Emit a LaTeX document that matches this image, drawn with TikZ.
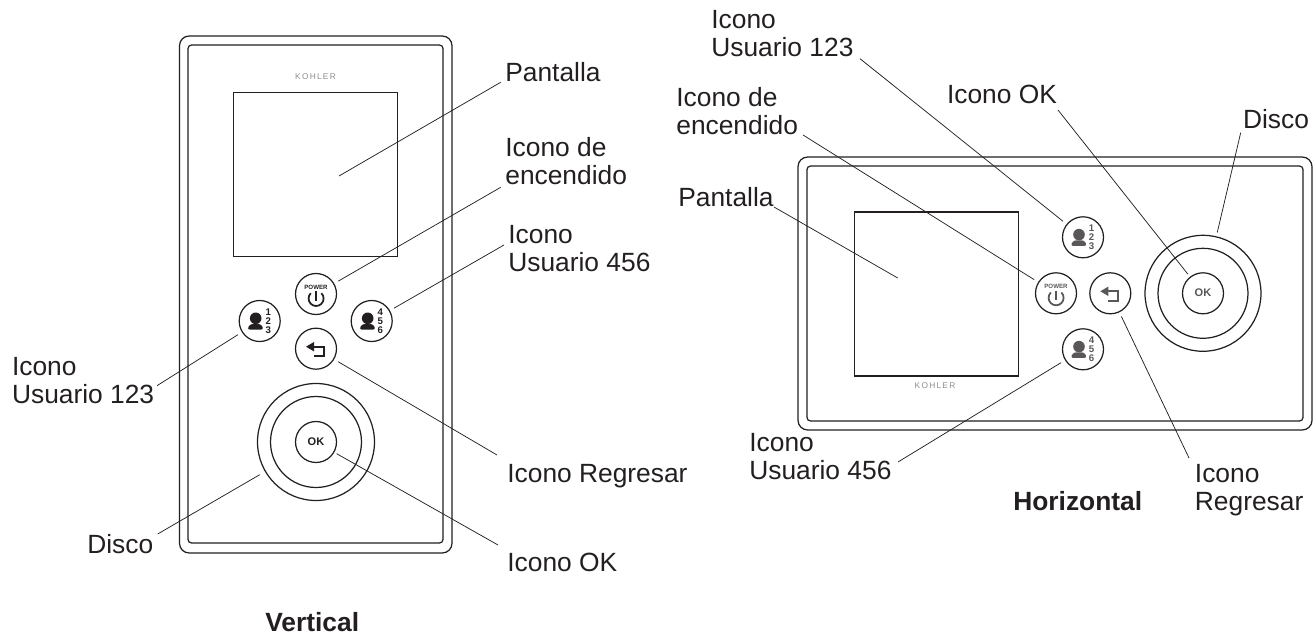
\documentclass[tikz,border=0pt]{standalone}
\usepackage{fontspec}
\setmainfont{Liberation Sans}
\newfontfamily\kohlerfont[LetterSpace=15]{Liberation Sans}
\usepackage{tikz}
\definecolor{ink}{HTML}{231F20}
\definecolor{softgray}{HTML}{8A8C8E}
\colorlet{iconcol}{ink}

\begin{document}
\begin{tikzpicture}[
		x=0.02cm, y=-0.02cm,
		callout/.style={inner sep=0pt, anchor=north west, align=left, text=ink, font=\fontsize{15}{15.9}\selectfont},
		caption/.style={inner sep=0pt, anchor=north west, text=ink, font=\fontsize{15}{15.9}\selectfont\bfseries},
		brand/.style={inner sep=0pt, text=softgray, font=\fontsize{4.75}{5}\kohlerfont},
		outerframe/.style={draw=ink, line width=0.7pt, rounded corners=5.5pt},
		innerframe/.style={draw=ink, line width=0.7pt, rounded corners=2pt},
		screenbox/.style={draw=ink, line width=0.7pt, inner sep=0pt, minimum size=3.28cm},
		btn/.style={draw=ink, circle, line width=0.7pt, inner sep=0pt, minimum size=0.82cm},
		ring/.style={draw=ink, circle, line width=0.7pt, inner sep=0pt},
		leader/.style={draw=ink, line width=0.42pt, shorten >=2.6pt},
		icondigit/.style={inner sep=0pt, text=iconcol, font=\fontsize{5.5}{6}\selectfont\bfseries},
		pics/usericon/.style n args={3}{code={
				\fill[iconcol] (-4,-2.7) circle (5.8);
				\fill[iconcol, rounded corners=1.5pt] (-12.6,8.6) -- (-9.6,3) -- (1.4,3) -- (4,8.6) -- cycle;
				\node[icondigit] (a) at (8.5,-8.7) {#1};
				\node[icondigit] (b) at (8.5,0) {#2};
				\node[icondigit] (c) at (8.5,9) {#3};
		}},
		pics/powericon/.style={code={
				\node[icondigit, font=\fontsize{3.5}{4}\selectfont\bfseries] (word) at (0,-6.7) {POWER};
				\draw[iconcol, line width=1pt] (0,-2.7) -- (0,6.7);
				\draw[iconcol, line width=1pt] (5.4,-0.8) arc[start angle=-45, end angle=225, radius=7.5];
		}},
		pics/backicon/.style={code={
				\fill[iconcol] (-10,-2) -- (-2,-6.7) -- (-2,2.7) -- cycle;
				\draw[iconcol, line width=1.05pt] (-2,-2) -- (8,-2) -- (8,7.3) -- (-2,7.3);
		}},
		okmark/.style={inner sep=0pt, text=iconcol, font=\fontsize{6.3}{7}\selectfont\bfseries}
		]
		\useasboundingbox (0,0) rectangle (1316,635);
		
		% =========================
		% Vertical panel
		% =========================
		\draw[outerframe] (179.5,36) rectangle (452,553);
		\draw[innerframe] (188,45) rectangle (443,543);
		\node[brand] (vBrand) at (315.5,77) {KOHLER};
		\node[screenbox] (vScreen) at (315.7,174.5) {};
		
		\node[btn] (vPower) at (316,294) {};
		\node[btn] (vUserA) at (259.7,321) {};
		\node[btn] (vUserB) at (371.7,321) {};
		\node[btn] (vBack) at (316,348.7) {};
		\pic (vPowerMark) at (vPower) {powericon};
		\pic (vUserAMark) at (vUserA) {usericon={1}{2}{3}};
		\pic (vUserBMark) at (vUserB) {usericon={4}{5}{6}};
		\pic (vBackMark) at (vBack) {backicon};
		
		\node[ring, minimum size=2.34cm] (vDisc) at (316,442) {};
		\node[ring, minimum size=1.82cm] (vDiscIn) at (316,442) {};
		\node[btn] (vOk) at (316,442) {};
		\node[okmark] (vOkMark) at (316,441.5) {OK};
		
		% =========================
		% Horizontal panel
		% =========================
		\draw[outerframe] (798,157) rectangle (1312,430);
		\draw[innerframe] (807,166) rectangle (1303,421);
		\node[brand] (hBrand) at (935,386) {KOHLER};
		\node[screenbox] (hScreen) at (936.5,294) {};
		
		\begin{scope}
			\colorlet{iconcol}{ink!75!white}
			\node[btn] (hUserA) at (1083,237.3) {};
			\node[btn] (hPower) at (1056,293.3) {};
			\node[btn] (hBack) at (1110.3,293.3) {};
			\node[btn] (hUserB) at (1083,349.3) {};
			\pic (hUserAMark) at (hUserA) {usericon={1}{2}{3}};
			\pic (hPowerMark) at (hPower) {powericon};
			\pic (hBackMark) at (hBack) {backicon};
			\pic (hUserBMark) at (hUserB) {usericon={4}{5}{6}};
			
			\node[ring, minimum size=2.32cm] (hDisc) at (1203,293.3) {};
			\node[ring, minimum size=1.8cm] (hDiscIn) at (1203,293.3) {};
			\node[btn] (hOk) at (1203,293.3) {};
			\node[okmark] (hOkMark) at (1203,293) {OK};
		\end{scope}
		
		% =========================
		% Labels, vertical panel
		% =========================
		\node[callout] (vLblScreen) at (505,62) {Pantalla};
		\node[callout] (vLblPower) at (505,137) {Icono de\\encendido};
		\node[callout] (vLblUserB) at (508,225) {Icono\\Usuario 456};
		\node[callout] (vLblBack) at (507,464) {Icono Regresar};
		\node[callout] (vLblOk) at (507,553) {Icono OK};
		\node[callout] (vLblDisc) at (87,534) {Disco};
		\node[callout] (vLblUserA) at (11.7,357) {Icono\\Usuario 123};
		\node[caption] (vCaption) at (265,611.7) {Vertical};
		
		% =========================
		% Labels, horizontal panel
		% =========================
		\node[callout] (hLblUserA) at (711,10) {Icono\\Usuario 123};
		\node[callout] (hLblPower) at (676,87) {Icono de\\encendido};
		\node[callout] (hLblOk) at (946.7,85) {Icono OK};
		\node[callout] (hLblScreen) at (678,186.7) {Pantalla};
		\node[callout] (hLblDisc) at (1242.7,109) {Disco};
		\node[callout] (hLblUserB) at (749,432.7) {Icono\\Usuario 456};
		\node[callout] (hLblBack) at (1194.6,464) {Icono\\Regresar};
		\node[caption] (hCaption) at (1013,490.7) {Horizontal};
		
		% =========================
		% Leader lines
		% =========================
		\coordinate (vScreenTip) at (339,176);
		\coordinate (hScreenTip) at (897.7,278);
		\coordinate (vScreenTail) at (500.7,82.3);
		\coordinate (vPowerTail) at (500.7,187.3);
		\coordinate (vUserBTail) at (504,245);
		\coordinate (vBackTail) at (497,455);
		\coordinate (vOkTail) at (498,545);
		\coordinate (vDiscTail) at (157.7,534);
		\coordinate (vUserATail) at (157,385.7);
		\coordinate (hUserATail) at (860,58.7);
		\coordinate (hPowerTail) at (803,135);
		\coordinate (hOkTail) at (1058,110);
		\coordinate (hScreenTail) at (774,207);
		\coordinate (hDiscTail) at (1240.7,132.7);
		\coordinate (hUserBTail) at (898,462);
		\coordinate (hBackTail) at (1189,458);
		
		\draw[leader, shorten >=0pt] (vScreenTail) -- (vScreenTip);
		\draw[leader] (vPowerTail) -- (vPower);
		\draw[leader] (vUserBTail) -- (vUserB);
		\draw[leader] (vBackTail) -- (vBack);
		\draw[leader, shorten >=1.5pt] (vOkTail) -- (vOk);
		\draw[leader, shorten >=3.4pt] (vDiscTail) -- (vDisc);
		\draw[leader] (vUserATail) -- (vUserA);
		
		\draw[leader] (hUserATail) -- (hUserA);
		\draw[leader] (hPowerTail) -- (hPower);
		\draw[leader, shorten >=1.8pt] (hOkTail) -- (hOk);
		\draw[leader, shorten >=0pt] (hScreenTail) -- (hScreenTip);
		\draw[leader, shorten >=2.2pt] (hDiscTail) -- (hDisc);
		\draw[leader] (hUserBTail) -- (hUserB);
		\draw[leader] (hBackTail) -- (hBack);
		
	\end{tikzpicture}
\end{document}
